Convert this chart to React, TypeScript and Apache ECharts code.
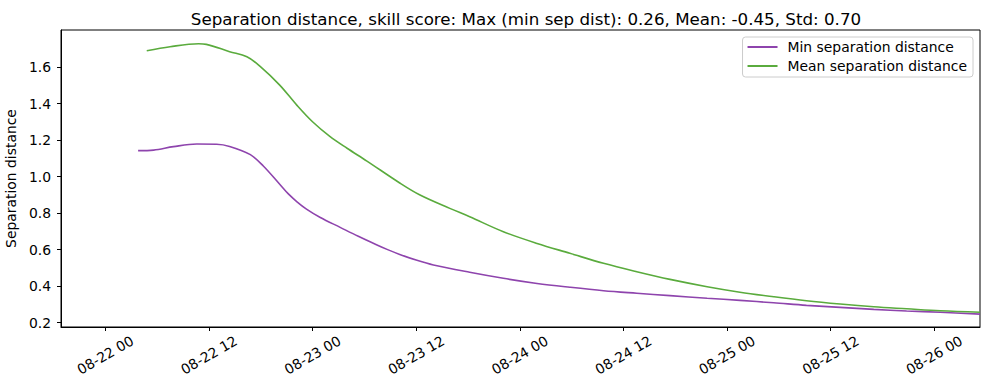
import React, { useEffect, useRef } from "react";
import * as echarts from "echarts";

// Hours after 08-22 00:00
const minHours = [3.8, 5.6, 7.9, 10.6, 12.9, 14.4, 16.8, 18.3, 20.2, 21.2, 22.2, 23.3, 24.9, 27.2, 29.3, 31.4, 32.7, 34.1, 36.0, 38.0, 42.2, 46.1, 50.0, 53.8, 57.7, 61.55, 65.4, 69.7, 73.5, 77.4, 81.2, 85.1, 89.0, 92.8, 96.7, 101.3];
const minValues = [1.142, 1.145, 1.164, 1.178, 1.177, 1.165, 1.120, 1.058, 0.958, 0.905, 0.862, 0.822, 0.776, 0.722, 0.673, 0.627, 0.600, 0.574, 0.543, 0.516, 0.476, 0.443, 0.415, 0.394, 0.375, 0.361, 0.348, 0.334, 0.322, 0.309, 0.295, 0.284, 0.273, 0.264, 0.257, 0.247];

const meanHours = [4.8, 7.5, 10.8, 11.7, 14.4, 16.4, 17.9, 20.2, 22.2, 24.0, 26.0, 28.0, 30.3, 34.1, 36.45, 39.9, 42.2, 46.1, 50.0, 53.8, 57.7, 61.55, 65.4, 69.7, 73.5, 77.4, 81.2, 85.1, 89.0, 92.8, 96.7, 101.3];
const meanValues = [1.689, 1.711, 1.727, 1.724, 1.684, 1.656, 1.605, 1.501, 1.390, 1.300, 1.220, 1.155, 1.085, 0.965, 0.899, 0.826, 0.780, 0.698, 0.634, 0.580, 0.525, 0.479, 0.437, 0.397, 0.367, 0.342, 0.320, 0.302, 0.287, 0.276, 0.265, 0.257];

const xTicks = [0, 12, 24, 36, 48, 60, 72, 84, 96];
const yTicks = [0.2, 0.4, 0.6, 0.8, 1.0, 1.2, 1.4, 1.6];

const seriesNames = ["Min separation distance", "Mean separation distance"];
const titleText = "Separation distance, skill score: Max (min sep dist): 0.26, Mean: -0.45, Std: 0.70";

const FONT = "DejaVu Sans";

function fmtHour(h: number): string {
  const day = 22 + Math.floor(h / 24);
  const hr = Math.round(h - Math.floor(h / 24) * 24);
  return "08-" + String(day).padStart(2, "0") + " " + String(hr).padStart(2, "0");
}

export default function App() {
  const ref = useRef<HTMLDivElement>(null);
  useEffect(() => {
    if (!ref.current) return;
    const chart = echarts.init(ref.current, undefined, { renderer: "svg" });
    chart.setOption({
      animation: false,
      backgroundColor: "#ffffff",
      title: {
        text: titleText,
        left: 521,
        textAlign: "center",
        top: 5,
        textStyle: { fontFamily: FONT, fontSize: 16.7, fontWeight: "normal", color: "#000" },
      },
      legend: {
        orient: "vertical",
        right: 16,
        top: 37,
        padding: [3, 6, 4, 5],
        itemGap: 5,
        itemWidth: 30,
        itemHeight: 2,
        icon: "rect",
        borderColor: "#cccccc",
        borderWidth: 1,
        borderRadius: 3,
        textStyle: { fontFamily: FONT, fontSize: 13.9, color: "#000", padding: [0, 0, 0, 5] },
        data: seriesNames,
      },
      grid: {
        left: 61,
        right: 9,
        top: 30,
        bottom: 63,
        show: true,
        borderColor: "#000",
        borderWidth: 1,
        containLabel: false,
        outerBoundsMode: "none",
      },
      xAxis: {
        type: "value",
        min: -5.13,
        max: 101.3,
        splitLine: { show: false },
        axisLine: { show: true, onZero: false, lineStyle: { color: "#000", width: 1 } },
        axisTick: { show: true, length: 4, customValues: xTicks, lineStyle: { color: "#000" } },
        axisLabel: {
          customValues: xTicks,
          rotate: 30,
          align: "center",
          verticalAlign: "middle",
          margin: 28,
          fontFamily: FONT,
          fontSize: 13.9,
          color: "#000",
          formatter: (v: number) => fmtHour(v),
        },
      },
      yAxis: {
        type: "value",
        min: 0.1764,
        max: 1.8026,
        name: "Separation distance",
        nameLocation: "middle",
        nameRotate: 90,
        nameGap: 36,
        nameTextStyle: { fontFamily: FONT, fontSize: 13.9, color: "#000" },
        splitLine: { show: false },
        axisLine: { show: true, onZero: false, lineStyle: { color: "#000", width: 1 } },
        axisTick: { show: true, length: 4, customValues: yTicks, lineStyle: { color: "#000" } },
        axisLabel: {
          customValues: yTicks,
          margin: 10,
          fontFamily: FONT,
          fontSize: 13.9,
          color: "#000",
          formatter: (v: number) => v.toFixed(1),
        },
      },
      series: [
        {
          name: seriesNames[0],
          type: "line",
          showSymbol: false,
          smooth: 0.35,
          color: "#8e44ad",
          lineStyle: { width: 1.6, color: "#8e44ad" },
          data: minHours.map((h, i) => [h, minValues[i]]),
        },
        {
          name: seriesNames[1],
          type: "line",
          showSymbol: false,
          smooth: 0.35,
          color: "#5aab3d",
          lineStyle: { width: 1.6, color: "#5aab3d" },
          data: meanHours.map((h, i) => [h, meanValues[i]]),
        },
      ],
    });
    return () => chart.dispose();
  }, []);
  return (
    <div
      ref={ref}
      style={{ position: "fixed", left: 0, top: 0, width: 989, height: 390 }}
    />
  );
}
